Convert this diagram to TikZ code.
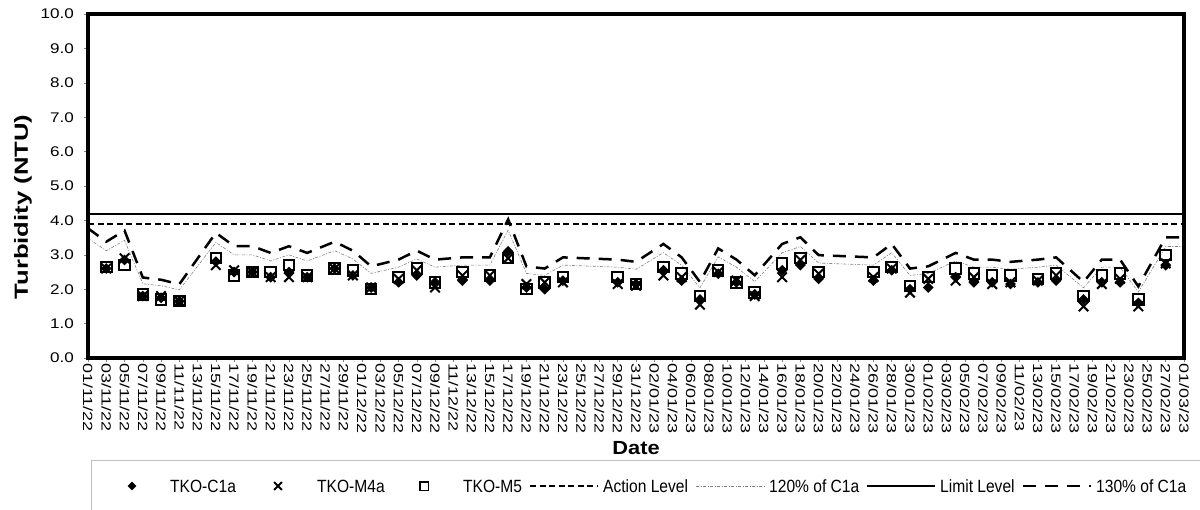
\documentclass[tikz,border=0pt]{standalone}
\usepackage{fontspec}
\setmainfont{Liberation Sans}
\usetikzlibrary{shapes.geometric,shapes.misc}
\newcommand{\wide}[2]{\scalebox{#1}[1]{#2}}

% day (from 01/11/22) / TKO-C1a / TKO-M4a / TKO-M5
\def\tkodata{2/2.6/2.6/2.65, 4/2.85/2.9/2.7, 6/1.8/1.8/1.85, 8/1.75/1.8/1.7,
  10/1.65/1.65/1.65, 14/2.8/2.7/2.9, 16/2.5/2.55/2.4, 18/2.5/2.5/2.5,
  20/2.35/2.35/2.5, 22/2.5/2.35/2.7, 24/2.35/2.35/2.4, 27/2.6/2.6/2.6,
  29/2.4/2.4/2.55, 31/2.05/2.05/2.0, 34/2.2/2.3/2.35, 36/2.4/2.55/2.6,
  38/2.2/2.05/2.2, 41/2.25/2.4/2.5, 44/2.25/2.4/2.4, 46/3.1/2.9/2.9,
  48/2.05/2.15/2.0, 50/2.0/2.2/2.2, 52/2.25/2.2/2.35, 58/2.2/2.15/2.35,
  60/2.15/2.1/2.15, 63/2.55/2.4/2.65, 65/2.25/2.35/2.45, 67/1.7/1.55/1.8,
  69/2.45/2.5/2.55, 71/2.2/2.25/2.2, 73/1.85/1.8/1.9, 76/2.55/2.35/2.75,
  78/2.7/2.85/2.9, 80/2.3/2.45/2.5, 86/2.25/2.35/2.5, 88/2.55/2.6/2.65,
  90/2.0/1.9/2.1, 92/2.05/2.3/2.35, 95/2.35/2.25/2.6, 97/2.2/2.35/2.45,
  99/2.2/2.15/2.4, 101/2.15/2.2/2.4, 104/2.2/2.25/2.3, 106/2.25/2.4/2.45,
  109/1.7/1.5/1.8, 111/2.2/2.15/2.4, 113/2.2/2.3/2.45, 115/1.6/1.5/1.7,
  118/2.7/2.75/3.0}

\begin{document}
\begin{tikzpicture}[x=1pt,y=-1pt,
  plotframe/.style={line width=3.5pt},
  limitln/.style={line width=2pt},
  actionln/.style={line width=2pt, dash pattern=on 6pt off 3.5pt},
  pctlow/.style={gray, line width=0.6pt, dash pattern=on 3pt off 1.5pt on 1pt off 1.5pt},
  pcthigh/.style={line width=2.5pt, dash pattern=on 13pt off 9pt},
  mkC/.style={diamond, fill=black, inner sep=0pt, minimum size=11pt},
  mkM/.style={cross out, draw=black, line width=2pt, inner sep=0pt, minimum size=7.5pt},
  mkS/.style={rectangle, draw=black, line width=2pt, inner sep=0pt, minimum size=10.5pt},
  tickln/.style={gray, line width=0.6pt},
  ylbl/.style={anchor=east, inner sep=0pt, font=\fontsize{14}{14}\selectfont},
  dlbl/.style={anchor=west, rotate=-90, inner sep=0pt, font=\fontsize{13.3}{13.3}\selectfont},
  ttl/.style={inner sep=0pt, font=\fontsize{19}{19}\selectfont\bfseries},
  legtxt/.style={anchor=west, inner sep=0pt, font=\fontsize{17.7}{17.7}\selectfont}]
\useasboundingbox (0,0) rectangle (1200,509);

% level lines
\draw[actionln] (88,223.8) -- (1184,223.8);
\draw[limitln] (88,213.5) -- (1184,213.5);

% y axis
\foreach \v in {0,...,10} {
  \draw[tickln] (84,{358-34.4*\v}) -- (88,{358-34.4*\v});
  \node[ylbl] (yl\v) at (74,{358-34.4*\v}) {\wide{1.22}{\v.0}};
}

% x axis
\foreach \k in {0,...,60}
  \draw[tickln] ({88+18.2667*\k},358) -- ++(0,4);
\foreach \mo/\yr/\start/\days in {
    11/22/0/{01,03,05,07,09,11,13,15,17,19,21,23,25,27,29},
    12/22/30/{01,03,05,07,09,11,13,15,17,19,21,23,25,27,29,31},
    01/23/62/{02,04,06,08,10,12,14,16,18,20,22,24,26,28,30},
    02/23/92/{01,03,05,07,09,11,13,15,17,19,21,23,25,27},
    03/23/120/{01}} {
  \foreach \dd [count=\i from 0] in \days
    \node[dlbl] (d\mo\dd) at ({88+9.1333*(\start+2*\i)},363) {\wide{1.35}{\dd/\mo/\yr}};
}

% series (120% and 130% of C1a paths built first)
\gdef\lowpath{}\gdef\highpath{}
\foreach \d/\c/\m/\s in \tkodata {
  \pgfmathsetmacro\lv{1.2*\c}\pgfmathsetmacro\hv{1.3*\c}
  \xdef\lowpath{\lowpath -- (\d,\lv)}
  \xdef\highpath{\highpath -- (\d,\hv)}
}
\begin{scope}[shift={(88,358)}, x=9.1333pt, y=34.4pt]
\draw[pctlow] (0,3.48) \lowpath -- (120,3.24);
\draw[pcthigh] (0,3.77) \highpath -- (120,3.51);
\foreach \d/\c/\m/\s in \tkodata {
  \node[mkC] (c\d) at (\d,\c) {};
  \node[mkM] (m\d) at (\d,\m) {};
  \node[mkS] (s\d) at (\d,\s) {};
}
\end{scope}

\draw[plotframe] (88,14) rectangle (1184,358);

% titles
\node[ttl, rotate=90] (ytitle) at (23,207) {\wide{1.35}{Turbidity (NTU)}};
\node[ttl] (xtitle) at (636,448) {\wide{1.15}{Date}};

% legend
\draw[gray!50, line width=0.8pt] (91,530) |- (1220,460);
\node[mkC, minimum size=9pt] (kc) at (132,486) {};
\node[legtxt] (lc) at (170,486) {\wide{0.88}{TKO-C1a}};
\node[mkM, minimum size=6pt, line width=1.8pt] (km) at (278,486) {};
\node[legtxt] (lm) at (317,486) {\wide{0.88}{TKO-M4a}};
\node[mkS, minimum size=8.5pt, line width=1.5pt] (ks) at (424,486) {};
\node[legtxt] (ls) at (463,486) {\wide{0.88}{TKO-M5}};
\coordinate (ka1) at (530,486); \coordinate (ka2) at (598,486);
\draw[actionln] (ka1) -- (ka2);
\node[legtxt] (la) at (603,486) {\wide{0.88}{Action Level}};
\coordinate (kp1) at (696,486); \coordinate (kp2) at (764,486);
\draw[pctlow] (kp1) -- (kp2);
\node[legtxt] (lp) at (769,486) {\wide{0.88}{120\% of C1a}};
\coordinate (kl1) at (867,486); \coordinate (kl2) at (935,486);
\draw[limitln] (kl1) -- (kl2);
\node[legtxt] (ll) at (940,486) {\wide{0.88}{Limit Level}};
\coordinate (kh1) at (1023,486); \coordinate (kh2) at (1091,486);
\draw[pcthigh] (kh1) -- (kh2);
\node[legtxt] (lh) at (1096,486) {\wide{0.88}{130\% of C1a}};
\end{tikzpicture}
\end{document}
